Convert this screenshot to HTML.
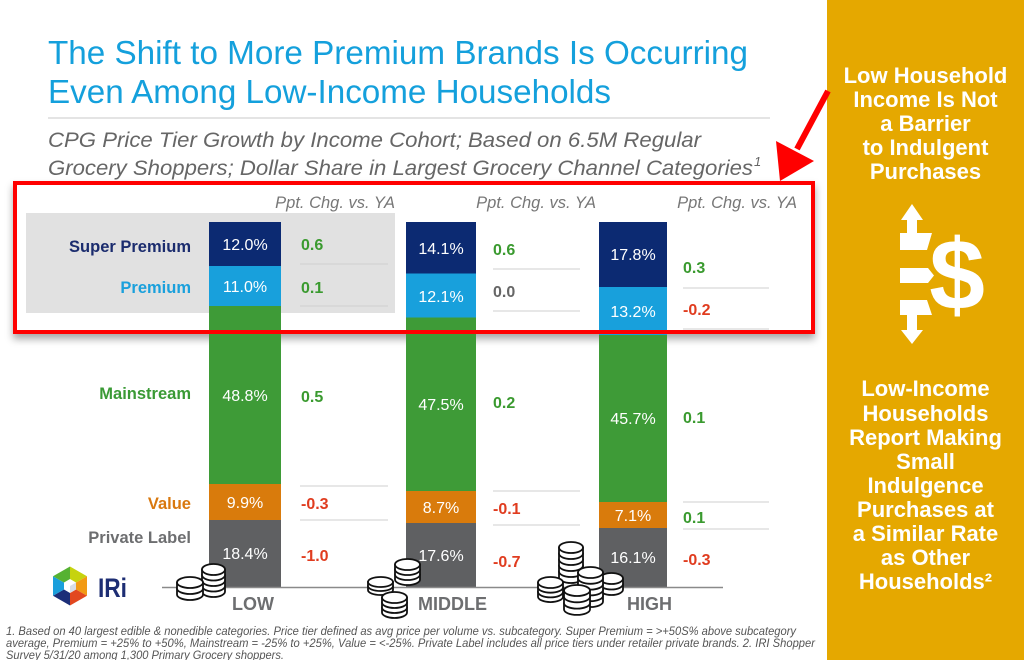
<!DOCTYPE html>
<html>
<head>
<meta charset="utf-8">
<style>
html,body{margin:0;padding:0;background:#fff;}
svg{display:block;}
text{font-family:"Liberation Sans", Arial, sans-serif;}
</style>
</head>
<body>
<svg width="1024" height="660" viewBox="0 0 1024 660" xmlns="http://www.w3.org/2000/svg">
<defs>
  <filter id="sh" x="-5%" y="-10%" width="110%" height="130%">
    <feDropShadow dx="0" dy="5" stdDeviation="4" flood-color="#000" flood-opacity="0.35"/>
  </filter>
</defs>
<rect x="0" y="0" width="1024" height="660" fill="#fff"/>

<!-- Title -->
<text x="48" y="64" font-size="33" fill="#14a0dc" textLength="700" lengthAdjust="spacingAndGlyphs">The Shift to More Premium Brands Is Occurring</text>
<text x="48" y="103" font-size="33" fill="#14a0dc" textLength="563" lengthAdjust="spacingAndGlyphs">Even Among Low-Income Households</text>
<line x1="48" y1="118" x2="770" y2="118" stroke="#dcdcdc" stroke-width="1.5"/>
<text x="48" y="147" font-size="21" font-style="italic" fill="#666" textLength="653" lengthAdjust="spacingAndGlyphs">CPG Price Tier Growth by Income Cohort; Based on 6.5M Regular</text>
<text x="48" y="175" font-size="21" font-style="italic" fill="#666" textLength="705" lengthAdjust="spacingAndGlyphs">Grocery Shoppers; Dollar Share in Largest Grocery Channel Categories</text>
<text x="754" y="166" font-size="13" font-style="italic" fill="#666">1</text>

<!-- Callout box background with shadow -->
<rect x="13" y="181" width="802" height="153" fill="#fff" filter="url(#sh)"/>
<rect x="26" y="213" width="369" height="100" fill="#e1e1e1"/>

<!-- Ppt headers -->
<text x="395" y="208" font-size="16.5" font-style="italic" fill="#777" text-anchor="end">Ppt. Chg. vs. YA</text>
<text x="596" y="208" font-size="16.5" font-style="italic" fill="#777" text-anchor="end">Ppt. Chg. vs. YA</text>
<text x="797" y="208" font-size="16.5" font-style="italic" fill="#777" text-anchor="end">Ppt. Chg. vs. YA</text>

<!-- separator lines -->
<g stroke="#cfcfcf" stroke-width="1">
  <line x1="300" y1="264" x2="388" y2="264"/>
  <line x1="300" y1="306" x2="388" y2="306"/>
  <line x1="300" y1="486" x2="388" y2="486"/>
  <line x1="300" y1="520" x2="388" y2="520"/>
  <line x1="493" y1="269" x2="580" y2="269"/>
  <line x1="493" y1="311" x2="580" y2="311"/>
  <line x1="493" y1="491" x2="580" y2="491"/>
  <line x1="493" y1="525" x2="580" y2="525"/>
  <line x1="683" y1="288" x2="769" y2="288"/>
  <line x1="683" y1="329" x2="769" y2="329"/>
  <line x1="683" y1="502" x2="769" y2="502"/>
  <line x1="683" y1="529" x2="769" y2="529"/>
</g>

<!-- Bars LOW -->
<rect x="209" y="222" width="72" height="44" fill="#0c2a72"/>
<rect x="209" y="266" width="72" height="40" fill="#18a0dc"/>
<rect x="209" y="306" width="72" height="178" fill="#3e9b37"/>
<rect x="209" y="484" width="72" height="36" fill="#d97b0c"/>
<rect x="209" y="520" width="72" height="67" fill="#5f6062"/>
<!-- Bars MIDDLE -->
<rect x="406" y="222" width="70" height="51.5" fill="#0c2a72"/>
<rect x="406" y="273.5" width="70" height="44" fill="#18a0dc"/>
<rect x="406" y="317.5" width="70" height="173.5" fill="#3e9b37"/>
<rect x="406" y="491" width="70" height="32" fill="#d97b0c"/>
<rect x="406" y="523" width="70" height="64" fill="#5f6062"/>
<!-- Bars HIGH -->
<rect x="599" y="222" width="68" height="65" fill="#0c2a72"/>
<rect x="599" y="287" width="68" height="48" fill="#18a0dc"/>
<rect x="599" y="335" width="68" height="167" fill="#3e9b37"/>
<rect x="599" y="502" width="68" height="26" fill="#d97b0c"/>
<rect x="599" y="528" width="68" height="59" fill="#5f6062"/>

<!-- Bar values -->
<g font-size="16" fill="#fff" text-anchor="middle">
  <text x="245" y="250">12.0%</text>
  <text x="245" y="292">11.0%</text>
  <text x="245" y="401">48.8%</text>
  <text x="245" y="508">9.9%</text>
  <text x="245" y="559">18.4%</text>
  <text x="441" y="254">14.1%</text>
  <text x="441" y="302">12.1%</text>
  <text x="441" y="410">47.5%</text>
  <text x="441" y="513">8.7%</text>
  <text x="441" y="561">17.6%</text>
  <text x="633" y="260">17.8%</text>
  <text x="633" y="317">13.2%</text>
  <text x="633" y="424">45.7%</text>
  <text x="633" y="521">7.1%</text>
  <text x="633" y="563">16.1%</text>
</g>

<!-- Deltas -->
<g font-size="16" font-weight="bold">
  <text x="301" y="250" fill="#3a9a2f">0.6</text>
  <text x="301" y="293" fill="#3a9a2f">0.1</text>
  <text x="301" y="402" fill="#3a9a2f">0.5</text>
  <text x="301" y="509" fill="#e03c1f">-0.3</text>
  <text x="301" y="561" fill="#e03c1f">-1.0</text>
  <text x="493" y="255" fill="#3a9a2f">0.6</text>
  <text x="493" y="297" fill="#666">0.0</text>
  <text x="493" y="408" fill="#3a9a2f">0.2</text>
  <text x="493" y="514" fill="#e03c1f">-0.1</text>
  <text x="493" y="567" fill="#e03c1f">-0.7</text>
  <text x="683" y="273" fill="#3a9a2f">0.3</text>
  <text x="683" y="315" fill="#e03c1f">-0.2</text>
  <text x="683" y="423" fill="#3a9a2f">0.1</text>
  <text x="683" y="523" fill="#3a9a2f">0.1</text>
  <text x="683" y="565" fill="#e03c1f">-0.3</text>
</g>

<!-- Left labels -->
<g font-size="16.5" font-weight="bold" text-anchor="end">
  <text x="191" y="252" fill="#1b2c6e">Super Premium</text>
  <text x="191" y="293" fill="#1aa0dc">Premium</text>
  <text x="191" y="399" fill="#3a9a35">Mainstream</text>
  <text x="191" y="509" fill="#d9780e">Value</text>
  <text x="191" y="543" fill="#6d6e70">Private Label</text>
</g>

<!-- Axis -->
<line x1="162" y1="587.5" x2="723" y2="587.5" stroke="#8a8a8a" stroke-width="1.5"/>
<g font-size="18" font-weight="bold" fill="#6d6e70">
  <text x="232" y="610">LOW</text>
  <text x="418" y="610">MIDDLE</text>
  <text x="627" y="610">HIGH</text>
</g>

<!-- Coins -->
<g fill="#fff" stroke="#111" stroke-width="1.8">
  <!-- LOW back: x202 w23 -->
  <path d="M202,586 v5.5 a11.5,5.5 0 0 0 23,0 v-5.5 Z"/>
  <path d="M202,580.5 v5.5 a11.5,5.5 0 0 0 23,0 v-5.5 Z"/>
  <path d="M202,575 v5.5 a11.5,5.5 0 0 0 23,0 v-5.5 Z"/>
  <path d="M202,569.5 v5.5 a11.5,5.5 0 0 0 23,0 v-5.5 Z"/>
  <ellipse cx="213.5" cy="569.5" rx="11.5" ry="5.5"/>
  <!-- LOW front: x177 w26 -->
  <path d="M177,588.5 v6 a13,5.5 0 0 0 26,0 v-6 Z"/>
  <path d="M177,582.5 v6 a13,5.5 0 0 0 26,0 v-6 Z"/>
  <ellipse cx="190" cy="582.5" rx="13" ry="5.5"/>

  <!-- MIDDLE back-right: x395 w25 -->
  <path d="M395,574.5 v5 a12.5,5.5 0 0 0 25,0 v-5 Z"/>
  <path d="M395,569.5 v5 a12.5,5.5 0 0 0 25,0 v-5 Z"/>
  <path d="M395,564.5 v5 a12.5,5.5 0 0 0 25,0 v-5 Z"/>
  <ellipse cx="407.5" cy="564.5" rx="12.5" ry="5.5"/>
  <!-- MIDDLE left: x368 w25 -->
  <path d="M368,586 v4 a12.5,5 0 0 0 25,0 v-4 Z"/>
  <path d="M368,582 v4 a12.5,5 0 0 0 25,0 v-4 Z"/>
  <ellipse cx="380.5" cy="582" rx="12.5" ry="5"/>
  <!-- MIDDLE front: x382 w25 -->
  <path d="M382,607.5 v5 a12.5,5.5 0 0 0 25,0 v-5 Z"/>
  <path d="M382,602.5 v5 a12.5,5.5 0 0 0 25,0 v-5 Z"/>
  <path d="M382,597.5 v5 a12.5,5.5 0 0 0 25,0 v-5 Z"/>
  <ellipse cx="394.5" cy="597.5" rx="12.5" ry="5.5"/>

  <!-- HIGH tall: x559 w24 -->
  <path d="M559,571.5 v6 a12,5.5 0 0 0 24,0 v-6 Z"/>
  <path d="M559,565.5 v6 a12,5.5 0 0 0 24,0 v-6 Z"/>
  <path d="M559,559.5 v6 a12,5.5 0 0 0 24,0 v-6 Z"/>
  <path d="M559,553.5 v6 a12,5.5 0 0 0 24,0 v-6 Z"/>
  <path d="M559,547.5 v6 a12,5.5 0 0 0 24,0 v-6 Z"/>
  <ellipse cx="571" cy="547.5" rx="12" ry="5.5"/>
  <!-- HIGH far right: x600 w23 -->
  <path d="M600,584 v5.5 a11.5,5.5 0 0 0 23,0 v-5.5 Z"/>
  <path d="M600,578.5 v5.5 a11.5,5.5 0 0 0 23,0 v-5.5 Z"/>
  <ellipse cx="611.5" cy="578.5" rx="11.5" ry="5.5"/>
  <!-- HIGH right: x578 w25 -->
  <path d="M578,595.7 v5.8 a12.5,5.5 0 0 0 25,0 v-5.8 Z"/>
  <path d="M578,589.9 v5.8 a12.5,5.5 0 0 0 25,0 v-5.8 Z"/>
  <path d="M578,584.1 v5.8 a12.5,5.5 0 0 0 25,0 v-5.8 Z"/>
  <path d="M578,578.3 v5.8 a12.5,5.5 0 0 0 25,0 v-5.8 Z"/>
  <path d="M578,572.5 v5.8 a12.5,5.5 0 0 0 25,0 v-5.8 Z"/>
  <ellipse cx="590.5" cy="572.5" rx="12.5" ry="5.5"/>
  <!-- HIGH left: x538 w25 -->
  <path d="M538,591.9 v4.7 a12.5,5.5 0 0 0 25,0 v-4.7 Z"/>
  <path d="M538,587.2 v4.7 a12.5,5.5 0 0 0 25,0 v-4.7 Z"/>
  <path d="M538,582.5 v4.7 a12.5,5.5 0 0 0 25,0 v-4.7 Z"/>
  <ellipse cx="550.5" cy="582.5" rx="12.5" ry="5.5"/>
  <!-- HIGH front: x564 w26 -->
  <path d="M564,603.1 v6.3 a13,5.5 0 0 0 26,0 v-6.3 Z"/>
  <path d="M564,596.8 v6.3 a13,5.5 0 0 0 26,0 v-6.3 Z"/>
  <path d="M564,590.5 v6.3 a13,5.5 0 0 0 26,0 v-6.3 Z"/>
  <ellipse cx="577" cy="590.5" rx="13" ry="5.5"/>
</g>

<!-- IRI logo -->
<g>
  <polygon points="70,586 70,566.5 87,576.25" fill="#c6d30f"/>
  <polygon points="70,586 87,576.25 87,595.75" fill="#f29a14"/>
  <polygon points="70,586 87,595.75 70,605.5" fill="#e2481f"/>
  <polygon points="70,586 70,605.5 53,595.75" fill="#1c2e78"/>
  <polygon points="70,586 53,595.75 53,576.25" fill="#1a9fdc"/>
  <polygon points="70,586 53,576.25 70,566.5" fill="#56b232"/>
  <polygon points="70,579 76,582.5 76,589.5 70,593 64,589.5 64,582.5" fill="#fff"/>
  <polygon points="70,586 76,582.5 76,589.5 70,593" fill="#d8dde6"/>
</g>
<text x="98" y="597" font-size="27" font-weight="bold" fill="#1d2d73" textLength="29" lengthAdjust="spacingAndGlyphs">IRi</text>

<!-- Red border on top -->
<rect x="15" y="183" width="798" height="149" fill="none" stroke="#ff0000" stroke-width="4"/>

<!-- Footnote -->
<g font-size="11.5" font-style="italic" fill="#555">
  <text x="6" y="635" textLength="790" lengthAdjust="spacingAndGlyphs">1. Based on 40 largest edible &amp; nonedible categories. Price tier defined as avg price per volume vs. subcategory. Super Premium = &gt;+50S% above subcategory</text>
  <text x="6" y="647" textLength="809" lengthAdjust="spacingAndGlyphs">average, Premium = +25% to +50%, Mainstream = -25% to +25%, Value = &lt;-25%. Private Label includes all price tiers under retailer private brands. 2. IRI Shopper</text>
  <text x="6" y="659" textLength="278" lengthAdjust="spacingAndGlyphs">Survey 5/31/20 among 1,300 Primary Grocery shoppers.</text>
</g>

<!-- Orange panel -->
<rect x="827" y="0" width="197" height="660" fill="#e5a800"/>
<g font-size="22" font-weight="bold" fill="#fff" text-anchor="middle">
  <text x="925.5" y="83">Low Household</text>
  <text x="925.5" y="107">Income Is Not</text>
  <text x="925.5" y="131">a Barrier</text>
  <text x="925.5" y="155">to Indulgent</text>
  <text x="925.5" y="179">Purchases</text>

  <text x="925.5" y="396">Low-Income</text>
  <text x="925.5" y="421">Households</text>
  <text x="925.5" y="445">Report Making</text>
  <text x="925.5" y="469">Small</text>
  <text x="925.5" y="493">Indulgence</text>
  <text x="925.5" y="517">Purchases at</text>
  <text x="925.5" y="541">a Similar Rate</text>
  <text x="925.5" y="565">as Other</text>
  <text x="925.5" y="589">Households²</text>
</g>

<!-- Dollar icon -->
<g fill="#fff">
  <polygon points="912,204 923,220 917,220 917,233 932,233 927,250 900,250 900,233 907,233 907,220 901,220"/>
  <polygon points="900,268 928,268 934,275.5 928,283 900,283"/>
  <polygon points="900,300 927,300 932,315 917,315 917,330 923,330 912,344 901,330 907,330 907,315 900,315"/>
  <text x="957" y="309" font-size="100" font-weight="bold" text-anchor="middle">$</text>
</g>

<!-- Red arrow -->
<line x1="828" y1="91" x2="797" y2="149" stroke="#ff0000" stroke-width="6"/>
<polygon points="776,141 814,161 780,181" fill="#ff0000"/>
</svg>
</body>
</html>
